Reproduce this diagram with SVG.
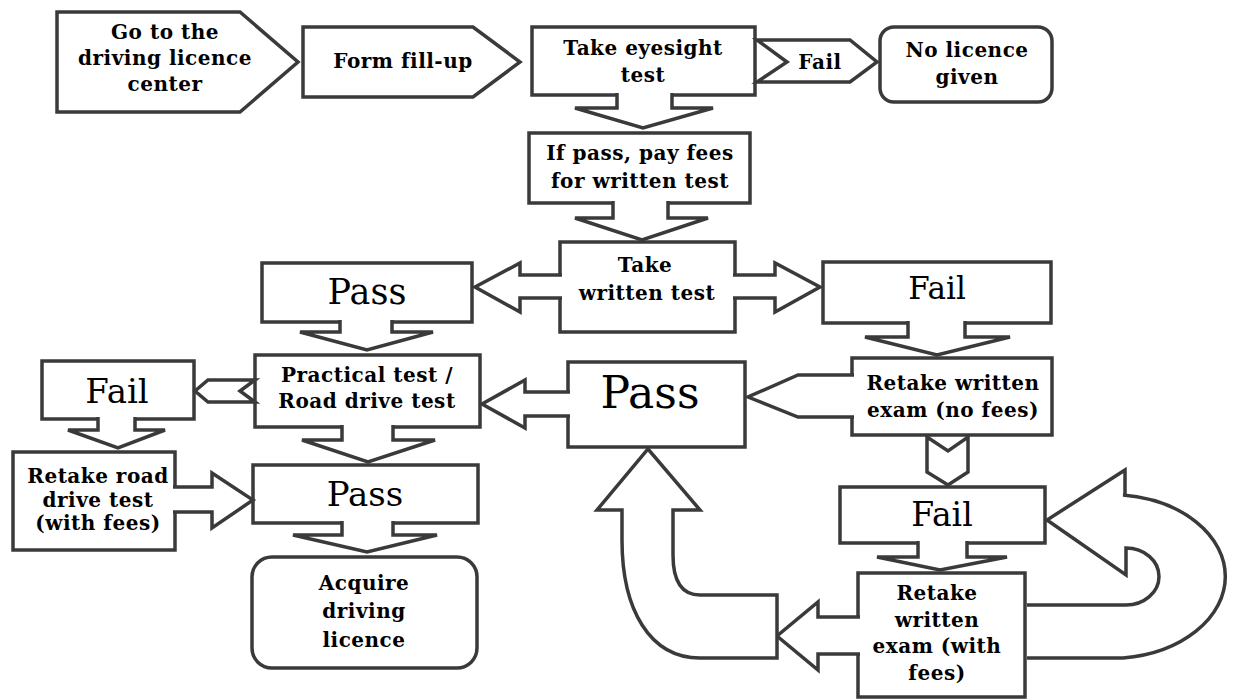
<svg xmlns="http://www.w3.org/2000/svg" width="1240" height="700" viewBox="0 0 1240 700">
<style>
.sh{fill:#fff;stroke:#3a3a3a;stroke-width:3.5;stroke-linejoin:miter}
.ar{fill:#fff;stroke:#3a3a3a;stroke-width:3.5;stroke-linejoin:miter}
.tb{font-family:"DejaVu Serif","Liberation Serif",serif;font-weight:bold;font-size:20px;letter-spacing:0.5px;fill:#000;text-anchor:middle}
.tl{font-family:"DejaVu Serif","Liberation Serif",serif;font-weight:normal;fill:#000;text-anchor:middle}
</style>
<rect width="1240" height="700" fill="#fff"/>
<g id="n-goto"><polygon class="sh" points="57,12 240,12 298,62 240,112 57,112"/>
<text class="tb" x="165" y="39">Go to the</text><text class="tb" x="165" y="65">driving licence</text><text class="tb" x="165" y="91">center</text></g>
<g id="n-form"><polygon class="sh" points="303,27 473,27 520,62 473,97 303,97"/>
<text class="tb" x="403" y="68">Form fill-up</text></g>
<g id="n-eyesight"><rect class="sh" x="532" y="27" width="223" height="68"/>
<text class="tb" x="643" y="55">Take eyesight</text><text class="tb" x="643" y="82">test</text></g>
<g id="n-fail-eye"><polygon class="sh" points="757,40 850,40 877,62 850,82 757,82 787,62"/>
<text class="tb" x="820" y="69">Fail</text></g>
<g id="n-nolicence"><rect class="sh" x="880" y="27" width="172" height="75" rx="14"/>
<text class="tb" x="967" y="57">No licence</text><text class="tb" x="967" y="84">given</text></g>
<g id="n-payfees"><rect class="sh" x="529" y="133" width="221" height="70"/>
<text class="tb" x="640" y="160" font-size="19" letter-spacing="0">If pass, pay fees</text><text class="tb" x="640" y="188" font-size="19" letter-spacing="0">for written test</text></g>
<g id="n-written"><rect class="sh" x="560" y="242" width="175" height="90"/>
<text class="tb" x="645" y="272" font-size="21">Take</text><text class="tb" x="647" y="300" font-size="21">written test</text></g>
<g id="n-pass1"><rect class="sh" x="262" y="263" width="210" height="59"/>
<text class="tl" x="367" y="304" font-size="35">Pass</text></g>
<g id="n-fail1"><rect class="sh" x="823" y="262" width="228" height="61"/>
<text class="tl" x="937" y="299" font-size="31">Fail</text></g>
<g id="n-practical"><rect class="sh" x="255" y="355" width="225" height="72"/>
<text class="tb" x="367" y="382">Practical test /</text><text class="tb" x="367" y="408">Road drive test</text></g>
<g id="n-pass2"><rect class="sh" x="568" y="362" width="177" height="85"/>
<text class="tl" x="650" y="408" font-size="44">Pass</text></g>
<g id="n-retake-nofee"><rect class="sh" x="852" y="358" width="200" height="77"/>
<text class="tb" x="953" y="390">Retake written</text><text class="tb" x="953" y="417">exam (no fees)</text></g>
<g id="n-fail2"><rect class="sh" x="42" y="361" width="152" height="58"/>
<text class="tl" x="117" y="403" font-size="34">Fail</text></g>
<g id="n-retake-road"><rect class="sh" x="13" y="452" width="162" height="98"/>
<text class="tb" x="98" y="483" font-size="16">Retake road</text><text class="tb" x="98" y="507" font-size="16">drive test</text><text class="tb" x="98" y="530" font-size="16">(with fees)</text></g>
<g id="n-pass3"><rect class="sh" x="253" y="465" width="225" height="58"/>
<text class="tl" x="365" y="506" font-size="34">Pass</text></g>
<g id="n-acquire"><rect class="sh" x="252" y="557" width="225" height="111" rx="20"/>
<text class="tb" x="364" y="590" font-size="21" letter-spacing="1.2">Acquire</text><text class="tb" x="364" y="618" font-size="21" letter-spacing="1.2">driving</text><text class="tb" x="364" y="647" font-size="21" letter-spacing="1.2">licence</text></g>
<g id="n-fail3"><rect class="sh" x="840" y="487" width="205" height="56"/>
<text class="tl" x="942" y="526" font-size="33">Fail</text></g>
<g id="n-retake-fee"><rect class="sh" x="858" y="573" width="167" height="124"/>
<text class="tb" x="937" y="600">Retake</text><text class="tb" x="937" y="627">written</text><text class="tb" x="937" y="653">exam (with</text><text class="tb" x="937" y="680">fees)</text></g>
<g id="connectors">
<path class="ar" d="M617,93 V108 H575 L643,128 L713,108 H672 V93"/>
<path class="ar" d="M613,201 V218 H575 L642,240 L708,218 H668 V201"/>
<path class="ar" d="M562,275 H520 V263 L475,287 L520,312 V298 H562"/>
<path class="ar" d="M733,275 H775 V263 L820,287 L775,312 V298 H733"/>
<path class="ar" d="M340,320 V332 H300 L367,350 L433,332 H392 V320"/>
<path class="ar" d="M908,321 V337 H865 L937,355 L1010,337 H965 V321"/>
<path class="ar" d="M570,392 H525 V380 L482,404 L525,428 V416 H570"/>
<path class="ar" d="M854,375 H798 L748,397 L798,417 H854"/>
<polygon class="ar" points="927,437 948,451 968,437 968,472 948,485 927,472"/>
<path class="ar" d="M918,541 V557 H877 L940,570 L1007,557 H967 V541"/>
<path class="ar" d="M860,617 H818 V602 L777,636 L818,670 V654 H860"/>
<path class="ar" d="M777,595 H700 C682,595 673,582 673,555 V510 H700 L648,449 L597,510 H622 V540 C622,610 650,658 700,658 H777 Z"/>
<path class="ar" d="M1027,658 H1123 A115,82 0 0 0 1123,495 H1125 V470 L1047,520 L1126,575 V548 A33,28.5 0 0 1 1126,605 H1027"/>
<polygon class="ar" points="255,380 208,380 195,391 208,402 255,402 240,391"/>
<path class="ar" d="M98,417 V430 H68 L118,448 L165,430 H135 V417"/>
<path class="ar" d="M173,487 H212 V473 L253,500 L212,528 V512 H173"/>
<path class="ar" d="M342,425 V440 H302 L368,462 L435,440 H393 V425"/>
<path class="ar" d="M342,521 V535 H293 L367,552 L437,535 H393 V521"/>
</g>
</svg>
